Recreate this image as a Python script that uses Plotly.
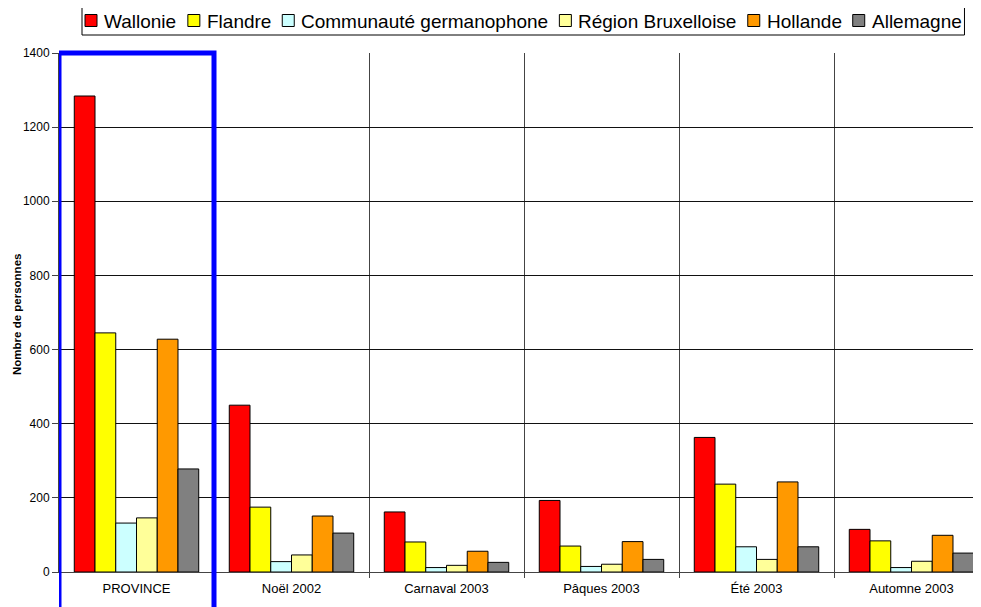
import plotly.graph_objects as go

categories = ["PROVINCE", "Noël 2002", "Carnaval 2003", "Pâques 2003", "Été 2003", "Automne 2003"]

wallonie = [1284, 450, 162, 193, 363, 115]
flandre = [645, 175, 81, 70, 237, 84]
germanophone = [132, 28, 12, 15, 68, 12]
bruxelles = [146, 46, 18, 21, 34, 29]
hollande = [628, 151, 56, 82, 243, 99]
allemagne = [278, 105, 26, 34, 68, 51]

series_names = ["Wallonie", "Flandre", "Communauté germanophone", "Région Bruxelloise", "Hollande", "Allemagne"]
series_values = [wallonie, flandre, germanophone, bruxelles, hollande, allemagne]
colors = ["#FF0000", "#FFFF00", "#CCFFFF", "#FFFF99", "#FF9900", "#808080"]

y_title = "Nombre de personnes"

FONT = "Liberation Sans, Arial, sans-serif"
OFF = 8  # default page body margin
W, H = 981 - OFF, 607 - OFF
# desired plot area in screen pixels: left 59, top 53, bottom 572, right 981
ML = 59 - OFF
MT = 53 - OFF
MB = H - (572 - OFF)
MR = 0
PW = W - ML - MR
PH = H - MT - MB


def px_x(px):
    return (px - OFF - ML) / PW


def px_y(py):
    return (H - MB - (py - OFF)) / PH


fig = go.Figure()
for name, vals, col in zip(series_names, series_values, colors):
    fig.add_trace(go.Bar(
        x=categories, y=vals, name=name,
        marker=dict(color=col, line=dict(color="#000000", width=1)),
        showlegend=False,
    ))

# highlight rectangle around the first category
fig.add_shape(type="rect", xref="x", yref="paper",
              x0=-0.5, x1=0.5, y0=-0.2, y1=1.0,
              line=dict(color="#0000FF", width=5), fillcolor="rgba(0,0,0,0)",
              layer="above")

# ---- manual legend (boxed, horizontal) ----
ARIAL = {"W": 944, "a": 556, "l": 222, "o": 556, "n": 556, "i": 222, "e": 556, "F": 611,
         "d": 556, "r": 333, "C": 722, "m": 833, "u": 556, "t": 278, "é": 556, "g": 556,
         "p": 556, "h": 556, "R": 722, "B": 667, "x": 500, "s": 500, "H": 722, "A": 667, " ": 278}
LEG_FS = 19
SQ = 12
GAP_SQ_TXT = 6
GAP_ITEM = 12
leg_top, leg_bot = 6, 35
leg_left = 82
leg_mid = (leg_top + leg_bot) / 2

shapes = []
annotations = []
cx = leg_left + 3
for name, col in zip(series_names, colors):
    shapes.append(dict(type="rect", xref="paper", yref="paper",
                       x0=px_x(cx), x1=px_x(cx + SQ),
                       y0=px_y(leg_mid + SQ / 2), y1=px_y(leg_mid - SQ / 2),
                       line=dict(color="#000000", width=1), fillcolor=col, layer="above"))
    tx = cx + SQ + GAP_SQ_TXT
    annotations.append(dict(xref="paper", yref="paper", x=px_x(tx - 1), y=px_y(leg_mid + 0.5),
                            xanchor="left", yanchor="middle", showarrow=False, text=name,
                            font=dict(size=LEG_FS, family=FONT, color="#000000")))
    tw = sum(ARIAL.get(c, 556) for c in name) / 1000 * LEG_FS
    cx = tx + tw + GAP_ITEM
leg_right = cx - GAP_ITEM + 4
shapes.insert(0, dict(type="rect", xref="paper", yref="paper",
                      x0=px_x(leg_left), x1=px_x(leg_right),
                      y0=px_y(leg_bot), y1=px_y(leg_top),
                      line=dict(color="#000000", width=1), fillcolor="white", layer="above"))

# y axis title
annotations.append(dict(xref="paper", yref="paper", x=px_x(17), y=px_y(315),
                        xanchor="center", yanchor="middle", showarrow=False, textangle=-90,
                        text="<b>" + y_title + "</b>",
                        font=dict(size=11.5, family=FONT, color="#000000")))

for s in shapes:
    fig.add_shape(**s)

fig.update_layout(
    width=W, height=H,
    margin=dict(l=ML, r=MR, t=MT, b=MB, autoexpand=False),
    paper_bgcolor="white", plot_bgcolor="white",
    barmode="group", bargap=0.197, bargroupgap=0,
    font=dict(family=FONT, color="#000000"),
    showlegend=False,
    annotations=annotations,
)

fig.update_xaxes(
    type="category", tickson="boundaries",
    range=[-0.5, -0.5 + PW / 155],
    showgrid=True, gridcolor="#444444", gridwidth=1,
    showline=True, linecolor="#444444", linewidth=1,
    ticks="outside", ticklen=5, tickcolor="#444444",
    tickfont=dict(size=13, family=FONT, color="#000"),
    ticklabelstandoff=4,
    automargin=False,
)
fig.update_yaxes(
    range=[0, 1400], dtick=200,
    showgrid=True, gridcolor="#111111", gridwidth=1,
    showline=True, linecolor="#444444", linewidth=1,
    ticks="outside", ticklen=6, tickcolor="#444444",
    tickfont=dict(size=12, family=FONT, color="#000"),
    zeroline=False, automargin=False,
)

fig.write_html("out.html")
